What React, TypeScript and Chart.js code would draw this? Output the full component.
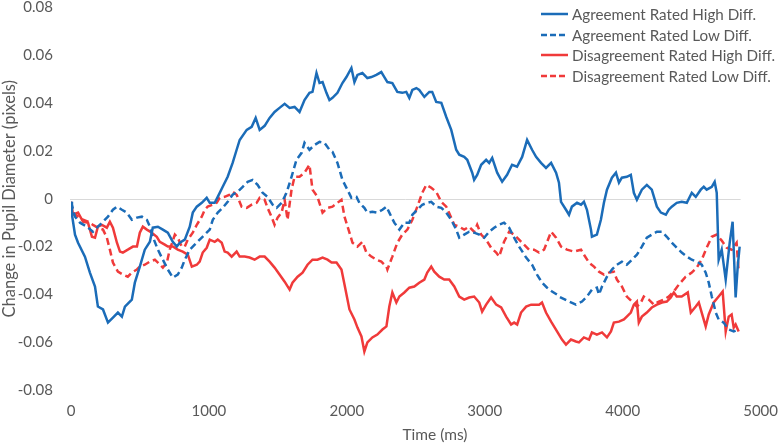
import React, { useEffect, useRef } from 'react';
import { Chart, registerables } from 'chart.js';

Chart.register(...registerables);

// ---- tick labels ----
const X_TICKS = [0, 1000, 2000, 3000, 4000, 5000];
const Y_TICKS = [-0.08, -0.06, -0.04, -0.02, 0, 0.02, 0.04, 0.06, 0.08];

// ---- series names ----
const SERIES_NAMES = [
  'Agreement Rated High Diff.',
  'Agreement Rated Low Diff.',
  'Disagreement Rated High Diff.',
  'Disagreement Rated Low Diff.',
];

// ---- Agreement Rated High Diff. ----
const agreeHighT = [0, 7, 29, 51, 101, 137, 174, 195, 232, 268, 304, 340, 369, 391, 441, 463, 499, 535, 572, 593, 630, 666, 702, 738, 767, 789, 825, 861, 883, 912, 948, 984, 1006, 1042, 1064, 1100, 1136, 1172, 1201, 1223, 1274, 1310, 1339, 1368, 1404, 1440, 1476, 1512, 1549, 1585, 1621, 1657, 1693, 1729, 1751, 1780, 1802, 1824, 1852, 1874, 1896, 1932, 1968, 1997, 2033, 2055, 2077, 2113, 2149, 2178, 2214, 2250, 2272, 2294, 2330, 2366, 2402, 2431, 2453, 2475, 2504, 2525, 2562, 2598, 2619, 2648, 2685, 2721, 2757, 2793, 2815, 2851, 2873, 2909, 2923, 2945, 2974, 3010, 3032, 3054, 3090, 3126, 3162, 3198, 3234, 3271, 3307, 3343, 3372, 3408, 3444, 3481, 3517, 3538, 3553, 3589, 3611, 3632, 3669, 3698, 3719, 3741, 3770, 3777, 3813, 3842, 3864, 3886, 3922, 3951, 3973, 3994, 4030, 4059, 4081, 4103, 4139, 4175, 4211, 4248, 4277, 4313, 4334, 4356, 4392, 4428, 4465, 4501, 4530, 4566, 4588, 4609, 4646, 4667, 4682, 4696, 4718, 4747, 4776, 4797, 4819, 4834, 4848];
const agreeHighV = [-0.0013, -0.0067, -0.015, -0.0184, -0.0242, -0.0309, -0.0367, -0.0451, -0.0463, -0.0518, -0.0497, -0.0476, -0.0493, -0.0451, -0.0422, -0.0351, -0.0284, -0.0213, -0.018, -0.0121, -0.0117, -0.0129, -0.0142, -0.018, -0.02, -0.0184, -0.0171, -0.0117, -0.0058, -0.0033, -0.0017, 0.0004, -0.0017, -0.0017, 0.0008, 0.005, 0.0092, 0.015, 0.0205, 0.0246, 0.0288, 0.0301, 0.0338, 0.0288, 0.0305, 0.0338, 0.0363, 0.038, 0.0397, 0.038, 0.0384, 0.0363, 0.0413, 0.0443, 0.0447, 0.0526, 0.0484, 0.0488, 0.0443, 0.0413, 0.0422, 0.0443, 0.0484, 0.0509, 0.0547, 0.0488, 0.0518, 0.0526, 0.0505, 0.0509, 0.0518, 0.053, 0.0509, 0.0488, 0.0484, 0.0447, 0.0443, 0.0447, 0.0422, 0.0455, 0.0463, 0.0455, 0.0426, 0.0447, 0.0447, 0.0405, 0.0401, 0.0342, 0.0288, 0.0205, 0.0184, 0.0175, 0.0163, 0.0109, 0.0079, 0.01, 0.0142, 0.0163, 0.015, 0.0171, 0.0109, 0.0071, 0.01, 0.0142, 0.0134, 0.0175, 0.0246, 0.0205, 0.0175, 0.015, 0.0129, 0.015, 0.0109, 0.0067, -0.0013, -0.0046, -0.0067, -0.0033, -0.0017, -0.0025, -0.0013, -0.0046, -0.0129, -0.0159, -0.015, -0.0088, -0.0017, 0.0038, 0.0088, 0.0109, 0.0067, 0.0088, 0.0092, 0.01, 0.0025, -0.0004, 0.0038, 0.0058, 0.0038, -0.0033, -0.0058, -0.0067, -0.0046, -0.0033, -0.0017, -0.0013, -0.0017, 0.0025, 0.0008, 0.0038, 0.005, 0.0038, 0.005, 0.0071, 0.0025, -0.0255, -0.0213, -0.0338, -0.0184, -0.0096, -0.0413, -0.0284, -0.02];

// ---- Agreement Rated Low Diff. ----
const agreeLowT = [0, 29, 65, 116, 159, 195, 232, 268, 304, 333, 369, 405, 441, 478, 514, 550, 572, 593, 630, 666, 702, 738, 774, 803, 825, 861, 897, 933, 970, 1006, 1028, 1064, 1100, 1136, 1172, 1208, 1245, 1281, 1317, 1353, 1389, 1425, 1462, 1491, 1527, 1563, 1599, 1635, 1672, 1693, 1729, 1766, 1802, 1838, 1874, 1896, 1932, 1968, 2004, 2033, 2070, 2091, 2127, 2149, 2185, 2221, 2258, 2287, 2308, 2344, 2381, 2417, 2453, 2475, 2511, 2547, 2583, 2612, 2648, 2685, 2721, 2757, 2793, 2815, 2851, 2887, 2923, 2960, 2996, 3032, 3068, 3104, 3140, 3177, 3213, 3249, 3300, 3343, 3379, 3415, 3452, 3488, 3524, 3538, 3611, 3661, 3705, 3741, 3777, 3813, 3828, 3850, 3886, 3922, 3958, 3994, 4030, 4067, 4103, 4139, 4175, 4211, 4248, 4284, 4320, 4356, 4392, 4428, 4465, 4501, 4537, 4573, 4602, 4624, 4646, 4675, 4696, 4732, 4769, 4805, 4834];
const agreeLowV = [-0.0013, -0.0075, -0.01, -0.0117, -0.0138, -0.0117, -0.0096, -0.0075, -0.0046, -0.0033, -0.0046, -0.0058, -0.0088, -0.0079, -0.0075, -0.0088, -0.0117, -0.0159, -0.0213, -0.0255, -0.0296, -0.033, -0.0317, -0.0288, -0.0255, -0.0213, -0.0192, -0.0171, -0.015, -0.0129, -0.0088, -0.0058, -0.0038, -0.0013, 0.0017, 0.0029, 0.005, 0.0071, 0.0079, 0.0058, 0.0025, 0.0008, -0.0025, -0.0038, -0.0017, 0.0025, 0.0092, 0.0163, 0.0192, 0.0234, 0.0205, 0.0225, 0.0238, 0.0234, 0.0205, 0.0196, 0.015, 0.0079, 0.0038, 0.0004, 0.0008, -0.0017, -0.0038, -0.0058, -0.0054, -0.0058, -0.0046, -0.0033, -0.0058, -0.01, -0.0129, -0.01, -0.01, -0.0067, -0.0046, -0.0025, -0.0017, -0.0013, -0.0033, -0.0038, -0.0058, -0.0088, -0.0129, -0.0163, -0.015, -0.0138, -0.0142, -0.015, -0.0163, -0.0138, -0.0121, -0.0109, -0.01, -0.0121, -0.0163, -0.02, -0.0246, -0.0276, -0.0317, -0.0351, -0.0372, -0.0388, -0.0401, -0.0409, -0.043, -0.0443, -0.043, -0.0409, -0.038, -0.0372, -0.0401, -0.0367, -0.0326, -0.0296, -0.0276, -0.0263, -0.0276, -0.0255, -0.0234, -0.02, -0.0163, -0.015, -0.0138, -0.0138, -0.0159, -0.0184, -0.0205, -0.0225, -0.0242, -0.0255, -0.0263, -0.0276, -0.0309, -0.0351, -0.0409, -0.0476, -0.0505, -0.0518, -0.0547, -0.0555, -0.0547];

// ---- Disagreement Rated High Diff. ----
const disagreeHighT = [0, 14, 51, 87, 123, 152, 174, 195, 224, 260, 282, 304, 333, 355, 376, 412, 449, 478, 499, 521, 550, 586, 622, 644, 680, 702, 738, 774, 810, 847, 876, 912, 933, 955, 984, 1006, 1042, 1064, 1093, 1114, 1136, 1165, 1201, 1223, 1259, 1295, 1331, 1368, 1404, 1440, 1476, 1512, 1549, 1585, 1606, 1643, 1679, 1715, 1751, 1787, 1824, 1860, 1889, 1925, 1961, 1983, 2019, 2055, 2077, 2106, 2127, 2149, 2185, 2221, 2258, 2287, 2308, 2330, 2359, 2381, 2417, 2453, 2489, 2525, 2562, 2583, 2612, 2634, 2670, 2706, 2742, 2779, 2815, 2851, 2887, 2923, 2960, 2981, 3010, 3046, 3083, 3119, 3155, 3191, 3213, 3235, 3263, 3300, 3336, 3372, 3394, 3415, 3444, 3481, 3524, 3560, 3589, 3625, 3661, 3683, 3719, 3756, 3777, 3813, 3850, 3886, 3915, 3936, 3973, 4009, 4030, 4059, 4081, 4103, 4117, 4139, 4175, 4211, 4248, 4284, 4320, 4349, 4371, 4392, 4428, 4472, 4494, 4530, 4552, 4573, 4602, 4624, 4660, 4696, 4725, 4747, 4769, 4790, 4805, 4819, 4841];
const disagreeHighV = [-0.0013, -0.0067, -0.0058, -0.0096, -0.01, -0.0159, -0.0163, -0.0117, -0.0109, -0.0121, -0.0096, -0.0121, -0.0184, -0.0221, -0.0225, -0.0213, -0.02, -0.02, -0.0142, -0.0117, -0.0129, -0.0142, -0.0159, -0.018, -0.0192, -0.02, -0.02, -0.0213, -0.0221, -0.0234, -0.0284, -0.0276, -0.0263, -0.0225, -0.0205, -0.0171, -0.018, -0.0171, -0.0184, -0.0221, -0.0225, -0.0242, -0.0221, -0.0242, -0.0242, -0.0246, -0.0255, -0.0242, -0.0242, -0.0263, -0.0288, -0.0317, -0.0347, -0.038, -0.0351, -0.0326, -0.0309, -0.0276, -0.0255, -0.0255, -0.0246, -0.0255, -0.0267, -0.0267, -0.0296, -0.0359, -0.0463, -0.0505, -0.0539, -0.0576, -0.0639, -0.0601, -0.058, -0.0568, -0.0547, -0.0534, -0.0451, -0.0392, -0.0434, -0.0409, -0.0392, -0.0372, -0.0367, -0.0351, -0.0338, -0.0309, -0.0284, -0.0305, -0.0326, -0.0338, -0.0338, -0.0367, -0.0409, -0.0422, -0.0413, -0.0409, -0.0434, -0.0472, -0.0443, -0.0413, -0.0443, -0.0455, -0.0493, -0.0526, -0.0518, -0.0526, -0.0476, -0.0451, -0.0443, -0.0443, -0.0443, -0.0434, -0.0476, -0.0514, -0.0555, -0.0589, -0.061, -0.0589, -0.0597, -0.0601, -0.058, -0.0589, -0.0559, -0.0568, -0.0559, -0.058, -0.0555, -0.0518, -0.0514, -0.0505, -0.0493, -0.0476, -0.0443, -0.043, -0.0518, -0.0493, -0.0476, -0.0455, -0.0443, -0.0434, -0.043, -0.0413, -0.0392, -0.0409, -0.0409, -0.0392, -0.0476, -0.0451, -0.0434, -0.0476, -0.0534, -0.0484, -0.0434, -0.0409, -0.0388, -0.0555, -0.0493, -0.0484, -0.0539, -0.0526, -0.0555];

// ---- Disagreement Rated Low Diff. ----
const disagreeLowT = [0, 14, 51, 87, 123, 159, 195, 232, 260, 282, 304, 340, 376, 412, 441, 478, 499, 535, 572, 608, 630, 666, 695, 716, 753, 774, 803, 825, 847, 883, 912, 948, 970, 991, 1028, 1056, 1078, 1114, 1151, 1172, 1201, 1237, 1274, 1310, 1346, 1368, 1404, 1425, 1454, 1476, 1498, 1527, 1549, 1570, 1599, 1621, 1657, 1693, 1729, 1751, 1787, 1824, 1860, 1896, 1932, 1961, 1983, 2019, 2041, 2077, 2113, 2142, 2178, 2214, 2250, 2287, 2294, 2330, 2366, 2402, 2439, 2475, 2511, 2547, 2576, 2612, 2648, 2685, 2721, 2757, 2779, 2815, 2851, 2887, 2923, 2945, 2974, 3010, 3046, 3083, 3104, 3140, 3177, 3213, 3249, 3285, 3321, 3358, 3394, 3430, 3481, 3517, 3553, 3596, 3647, 3698, 3719, 3756, 3792, 3828, 3864, 3900, 3936, 3958, 3994, 4030, 4067, 4103, 4132, 4153, 4190, 4226, 4262, 4298, 4334, 4371, 4407, 4457, 4501, 4537, 4573, 4609, 4646, 4682, 4718, 4754, 4790, 4826, 4841];
const disagreeLowV = [-0.0013, -0.0058, -0.0075, -0.0088, -0.0096, -0.0109, -0.0121, -0.0129, -0.0163, -0.0213, -0.0267, -0.0305, -0.0317, -0.0326, -0.0309, -0.0296, -0.0284, -0.0276, -0.0263, -0.0255, -0.0267, -0.0288, -0.0267, -0.0213, -0.015, -0.0163, -0.02, -0.02, -0.0171, -0.0142, -0.0109, -0.0075, -0.0046, -0.0033, -0.0025, -0.0017, 0.0004, 0.0008, 0.0017, 0.0029, 0.0017, -0.0033, -0.0038, -0.0025, -0.0017, 0.0004, -0.0004, -0.0038, -0.0075, -0.0109, -0.0079, -0.0058, -0.0004, -0.0088, 0.0038, 0.0092, 0.0092, 0.0109, 0.0142, 0.0038, 0.0008, -0.0058, -0.0038, -0.0033, -0.0017, -0.0004, -0.0075, -0.0142, -0.0184, -0.02, -0.018, -0.0225, -0.0242, -0.0255, -0.0263, -0.0284, -0.0296, -0.0242, -0.0184, -0.015, -0.0129, -0.0088, -0.0033, 0.0025, 0.0058, 0.0046, 0.0029, -0.0013, -0.0033, -0.0079, -0.0109, -0.0117, -0.0129, -0.0117, -0.0138, -0.0109, -0.015, -0.0171, -0.0205, -0.0225, -0.0242, -0.018, -0.0138, -0.015, -0.0171, -0.0192, -0.0213, -0.0213, -0.0225, -0.0213, -0.0138, -0.0163, -0.02, -0.0213, -0.0221, -0.0213, -0.0234, -0.0267, -0.0284, -0.0305, -0.0317, -0.0309, -0.0305, -0.0338, -0.0367, -0.0409, -0.043, -0.0451, -0.0434, -0.0409, -0.0422, -0.0443, -0.043, -0.0422, -0.0409, -0.0388, -0.0359, -0.0326, -0.0309, -0.0288, -0.0255, -0.0205, -0.0159, -0.015, -0.0175, -0.0205, -0.0213, -0.0184, -0.0305];

const BLUE = '#1b6cb8';
const RED = '#f03a3a';
const TEXT = '#595959';
const FONT = 'Lato, "Open Sans", sans-serif';
const INVISIBLE = 'rgba(0,0,0,0)';

const pts = (t: number[], v: number[]) => t.map((x, i) => ({ x, y: v[i] }));

const SERIES = [
  { name: SERIES_NAMES[0], t: agreeHighT, v: agreeHighV, color: BLUE, dash: [] as number[] },
  { name: SERIES_NAMES[1], t: agreeLowT, v: agreeLowV, color: BLUE, dash: [7, 4] },
  { name: SERIES_NAMES[2], t: disagreeHighT, v: disagreeHighV, color: RED, dash: [] as number[] },
  { name: SERIES_NAMES[3], t: disagreeLowT, v: disagreeLowV, color: RED, dash: [7, 4] },
];

const zeroLine = {
  id: 'zeroLine',
  beforeDatasetsDraw(chart: any) {
    const { ctx, scales } = chart;
    const lastT = Math.max(...SERIES.map((s) => s.t[s.t.length - 1]));
    const y = scales.y.getPixelForValue(0);
    ctx.save();
    ctx.strokeStyle = '#d9d9d9';
    ctx.lineWidth = 1;
    ctx.beginPath();
    ctx.moveTo(scales.x.getPixelForValue(0) - 1, Math.round(y) + 0.5);
    ctx.lineTo(scales.x.getPixelForValue(lastT) + 1, Math.round(y) + 0.5);
    ctx.stroke();
    ctx.restore();
  },
};

const xTitle = {
  id: 'xTitle',
  afterDraw(chart: any) {
    const { ctx } = chart;
    ctx.save();
    ctx.fillStyle = TEXT;
    ctx.font = `15.5px ${FONT}`;
    ctx.textAlign = 'center';
    ctx.textBaseline = 'middle';
    ctx.fillText('Time (ms)', 435, 435);
    ctx.restore();
  },
};

function LegendLine({ color, dash }: { color: string; dash: number[] }) {
  return (
    <svg width={27} height={6} style={{ display: 'block' }}>
      <line x1={0} y1={3} x2={27} y2={3} stroke={color} strokeWidth={2.5}
        strokeDasharray={dash.length ? '6 3' : undefined} />
    </svg>
  );
}

export default function App() {
  const ref = useRef<HTMLCanvasElement | null>(null);

  useEffect(() => {
    document.body.style.margin = '0';
    const canvas = ref.current;
    if (!canvas) return;
    const chart = new Chart(canvas, {
      type: 'line',
      data: {
        datasets: SERIES.map((s) => ({
          label: s.name,
          data: pts(s.t, s.v),
          borderColor: s.color,
          backgroundColor: s.color,
          borderWidth: 2.5,
          borderDash: s.dash,
          pointRadius: 0,
          tension: 0,
          fill: false,
        })),
      },
      options: {
        responsive: false,
        animation: false,
        devicePixelRatio: 1,
        layout: { padding: { top: 7, right: 16, left: 0, bottom: 0 } },
        plugins: { legend: { display: false }, tooltip: { enabled: false } },
        scales: {
          x: {
            type: 'linear',
            min: 0,
            max: 5000,
            afterBuildTicks: (s: any) => {
              s.ticks = X_TICKS.map((value) => ({ value }));
            },
            afterFit: (s: any) => {
              s.height = 55;
            },
            grid: { display: true, drawOnChartArea: false, drawTicks: true, tickLength: 12, color: INVISIBLE },
            border: { display: false },
            ticks: {
              color: TEXT,
              font: { family: FONT, size: 15 },
              padding: 0,
              maxRotation: 0,
              autoSkip: false,
              callback: (v: any) => String(v),
            },
          },
          y: {
            type: 'linear',
            min: -0.08,
            max: 0.08,
            afterBuildTicks: (s: any) => {
              s.ticks = Y_TICKS.map((value) => ({ value }));
            },
            afterFit: (s: any) => {
              s.width = 71;
            },
            grid: { display: true, drawOnChartArea: false, drawTicks: true, tickLength: 18, color: INVISIBLE },
            border: { display: false },
            ticks: {
              color: TEXT,
              font: { family: FONT, size: 15, lineHeight: 1 },
              padding: 0,
              callback: (v: any) => String(Number(Number(v).toFixed(2))),
            },
            title: {
              display: true,
              text: 'Change in Pupil Diameter (pixels)',
              color: TEXT,
              font: { family: FONT, size: 16.5 },
              padding: 0,
            },
          },
        },
      },
      plugins: [zeroLine, xTitle],
    });
    return () => chart.destroy();
  }, []);

  const rowsTop = [14, 34.5, 55, 75.5];

  return (
    <div style={{ position: 'relative', width: 778, height: 445, background: '#fff' }}>
      <canvas ref={ref} width={778} height={445} style={{ display: 'block' }} />
      {SERIES.map((s, i) => (
        <div
          key={s.name}
          style={{
            position: 'absolute',
            left: 541,
            top: rowsTop[i] - 10,
            height: 20,
            display: 'flex',
            alignItems: 'center',
            gap: 4,
            fontFamily: FONT,
            fontSize: 15.2,
            color: TEXT,
            whiteSpace: 'nowrap',
          }}
        >
          <LegendLine color={s.color} dash={s.dash} />
          <span>{s.name}</span>
        </div>
      ))}
    </div>
  );
}
